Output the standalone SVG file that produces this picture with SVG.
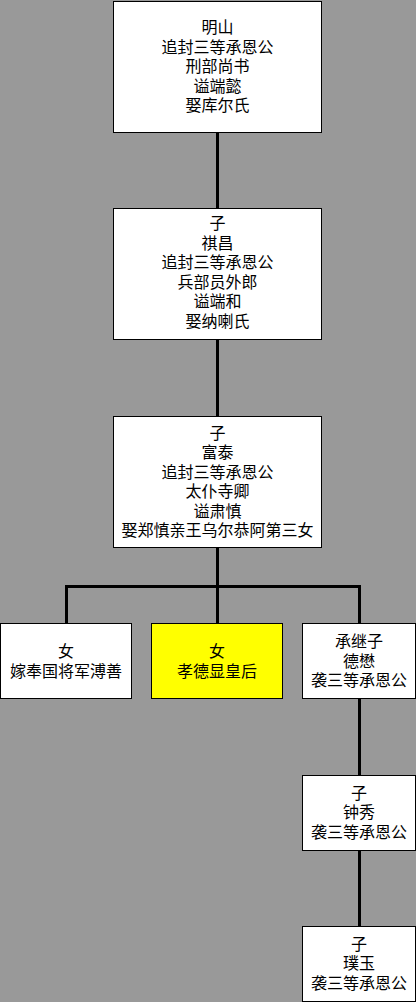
<svg xmlns="http://www.w3.org/2000/svg" width="416" height="1002" viewBox="0 0 416 1002">
<style>
.box{fill:#fff;stroke:#000;stroke-width:1}
.hl{fill:#ffff00}
text{font-family:"Liberation Sans","Noto Sans CJK SC",sans-serif;font-size:16px;fill:#000;text-anchor:middle}
.c{fill:none;stroke:#000;stroke-width:3}
</style>
<rect x="0" y="0" width="416" height="1002" fill="#999999"/>
<g id="connectors">
<path class="c" d="M217.5 133V208"/>
<path class="c" d="M217.5 340V416"/>
<path class="c" d="M217.5 548V623"/>
<path class="c" d="M66.5 623V586.5H359.5V623"/>
<path class="c" d="M359.5 699V775"/>
<path class="c" d="M359.5 850V926"/>
</g>
<g id="n1"><rect class="box" x="113.5" y="1.5" width="208" height="131"/>
<text x="217.5"><tspan x="217.5" y="33">明山</tspan><tspan x="217.5" y="52.5">追封三等承恩公</tspan><tspan x="217.5" y="72">刑部尚书</tspan><tspan x="217.5" y="91.5">谥端懿</tspan><tspan x="217.5" y="111">娶库尔氏</tspan></text></g>
<g id="n2"><rect class="box" x="113.5" y="208.5" width="208" height="131"/>
<text x="217.5"><tspan x="217.5" y="229">子</tspan><tspan x="217.5" y="248.5">祺昌</tspan><tspan x="217.5" y="268">追封三等承恩公</tspan><tspan x="217.5" y="287.5">兵部员外郎</tspan><tspan x="217.5" y="307">谥端和</tspan><tspan x="217.5" y="326.5">娶纳喇氏</tspan></text></g>
<g id="n3"><rect class="box" x="113.5" y="416.5" width="208" height="131"/>
<text x="217.5"><tspan x="217.5" y="438.5">子</tspan><tspan x="217.5" y="458">富泰</tspan><tspan x="217.5" y="477.5">追封三等承恩公</tspan><tspan x="217.5" y="497">太仆寺卿</tspan><tspan x="217.5" y="516.5">谥肃慎</tspan><tspan x="217.5" y="536">娶郑慎亲王乌尔恭阿第三女</tspan></text></g>
<g id="n4"><rect class="box" x="0.5" y="623.5" width="131" height="75"/>
<text><tspan x="66" y="657">女</tspan><tspan x="66" y="676.5">嫁奉国将军溥善</tspan></text></g>
<g id="n5"><rect class="box hl" x="151.5" y="623.5" width="131" height="75"/>
<text><tspan x="217" y="657">女</tspan><tspan x="217" y="676.5">孝德显皇后</tspan></text></g>
<g id="n6"><rect class="box" x="302.5" y="623.5" width="113" height="75"/>
<text><tspan x="359" y="647">承继子</tspan><tspan x="359" y="666.5">德懋</tspan><tspan x="359" y="686">袭三等承恩公</tspan></text></g>
<g id="n7"><rect class="box" x="302.5" y="775.5" width="113" height="75"/>
<text><tspan x="359" y="798.5">子</tspan><tspan x="359" y="818">钟秀</tspan><tspan x="359" y="837.5">袭三等承恩公</tspan></text></g>
<g id="n8"><rect class="box" x="302.5" y="926.5" width="113" height="75"/>
<text><tspan x="359" y="949.5">子</tspan><tspan x="359" y="969">璞玉</tspan><tspan x="359" y="988.5">袭三等承恩公</tspan></text></g>
</svg>
